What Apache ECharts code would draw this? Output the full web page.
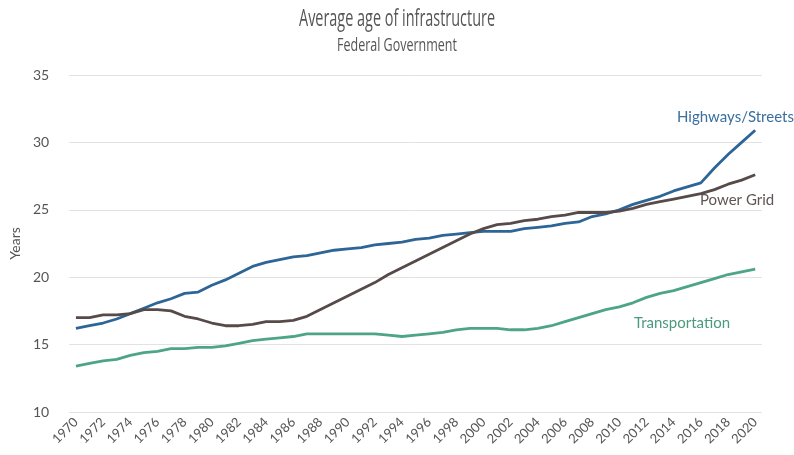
<!DOCTYPE html>
<html>
<head>
<meta charset="utf-8">
<script src="https://cdn.jsdelivr.net/npm/echarts@6/dist/echarts.min.js"></script>
<style>html,body{margin:0;padding:0;background:#fff}#c{width:794px;height:455px}</style>
</head>
<body>
<div id="c"></div>
<script>
const years = [];
for (let y = 1970; y <= 2020; y++) years.push(String(y));

const highways = [16.2,16.4,16.6,16.9,17.3,17.7,18.1,18.4,18.8,18.9,19.4,19.8,20.3,20.8,21.1,21.3,21.5,21.6,21.8,22.0,22.1,22.2,22.4,22.5,22.6,22.8,22.9,23.1,23.2,23.3,23.4,23.4,23.4,23.6,23.7,23.8,24.0,24.1,24.5,24.7,25.0,25.4,25.7,26.0,26.4,26.7,27.0,28.1,29.1,30.0,30.9];
const powerGrid = [17.0,17.0,17.2,17.2,17.3,17.6,17.6,17.5,17.1,16.9,16.6,16.4,16.4,16.5,16.7,16.7,16.8,17.1,17.6,18.1,18.6,19.1,19.6,20.2,20.7,21.2,21.7,22.2,22.7,23.2,23.6,23.9,24.0,24.2,24.3,24.5,24.6,24.8,24.8,24.8,24.9,25.1,25.4,25.6,25.8,26.0,26.2,26.5,26.9,27.2,27.6];
const transportation = [13.4,13.6,13.8,13.9,14.2,14.4,14.5,14.7,14.7,14.8,14.8,14.9,15.1,15.3,15.4,15.5,15.6,15.8,15.8,15.8,15.8,15.8,15.8,15.7,15.6,15.7,15.8,15.9,16.1,16.2,16.2,16.2,16.1,16.1,16.2,16.4,16.7,17.0,17.3,17.6,17.8,18.1,18.5,18.8,19.0,19.3,19.6,19.9,20.2,20.4,20.6];
const yTicks = [10, 35, 5];

const FONT = 'Lato';
const TFONT = 'Open Sans';
const titleText = 'Average age of infrastructure';
const subText = 'Federal Government';

// horizontal squeeze so the (condensed-looking) titles match the reference width
const cv = document.createElement('canvas').getContext('2d');
cv.font = '23px "' + TFONT + '"';
const tScale = 196 / cv.measureText(titleText).width;
cv.font = '18px "' + TFONT + '"';
const sScale = 120 / cv.measureText(subText).width;

const chart = echarts.init(document.getElementById('c'));
chart.setOption({
  animation: false,
  grid: {left: 62, right: 32, top: 75, bottom: 43},
  xAxis: {
    type: 'category',
    data: years,
    boundaryGap: true,
    axisLine: {show: false},
    axisTick: {show: false},
    axisLabel: {interval: 1, rotate: 45, fontFamily: FONT, fontSize: 13, color: '#555', margin: 8}
  },
  yAxis: {
    type: 'value',
    min: yTicks[0], max: yTicks[1], interval: yTicks[2],
    name: 'Years',
    nameLocation: 'middle',
    nameGap: 40,
    nameTextStyle: {fontFamily: FONT, fontSize: 14, color: '#555'},
    axisLabel: {fontFamily: FONT, fontSize: 14, color: '#555', margin: 20},
    splitLine: {lineStyle: {color: '#e2e2e2', width: 1}}
  },
  series: [
    {name: 'Highways/Streets', type: 'line', data: highways, showSymbol: false, lineStyle: {color: '#2e6597', width: 2.8}, itemStyle: {color: '#2e6597'}},
    {name: 'Power Grid', type: 'line', data: powerGrid, showSymbol: false, lineStyle: {color: '#574b49', width: 2.8}, itemStyle: {color: '#574b49'}},
    {name: 'Transportation', type: 'line', data: transportation, showSymbol: false, lineStyle: {color: '#4ea585', width: 2.8}, itemStyle: {color: '#4ea585'}}
  ],
  graphic: [
    {type: 'text', x: 397, y: 19, scaleX: tScale, style: {text: titleText, fontFamily: TFONT, fontSize: 23, fill: '#555', align: 'center', verticalAlign: 'middle'}},
    {type: 'text', x: 397, y: 46, scaleX: sScale, style: {text: subText, fontFamily: TFONT, fontSize: 18, fill: '#555', align: 'center', verticalAlign: 'middle'}},
    {type: 'text', x: 677, y: 117, style: {text: 'Highways/Streets', fontFamily: FONT, fontSize: 15, fill: '#3a6fa0', verticalAlign: 'middle'}},
    {type: 'text', x: 700, y: 200, style: {text: 'Power Grid', fontFamily: FONT, fontSize: 15, fill: '#5f5553', verticalAlign: 'middle'}},
    {type: 'text', x: 634, y: 323, style: {text: 'Transportation', fontFamily: FONT, fontSize: 15, fill: '#4a9a7c', verticalAlign: 'middle'}}
  ]
});
</script>
</body>
</html>
